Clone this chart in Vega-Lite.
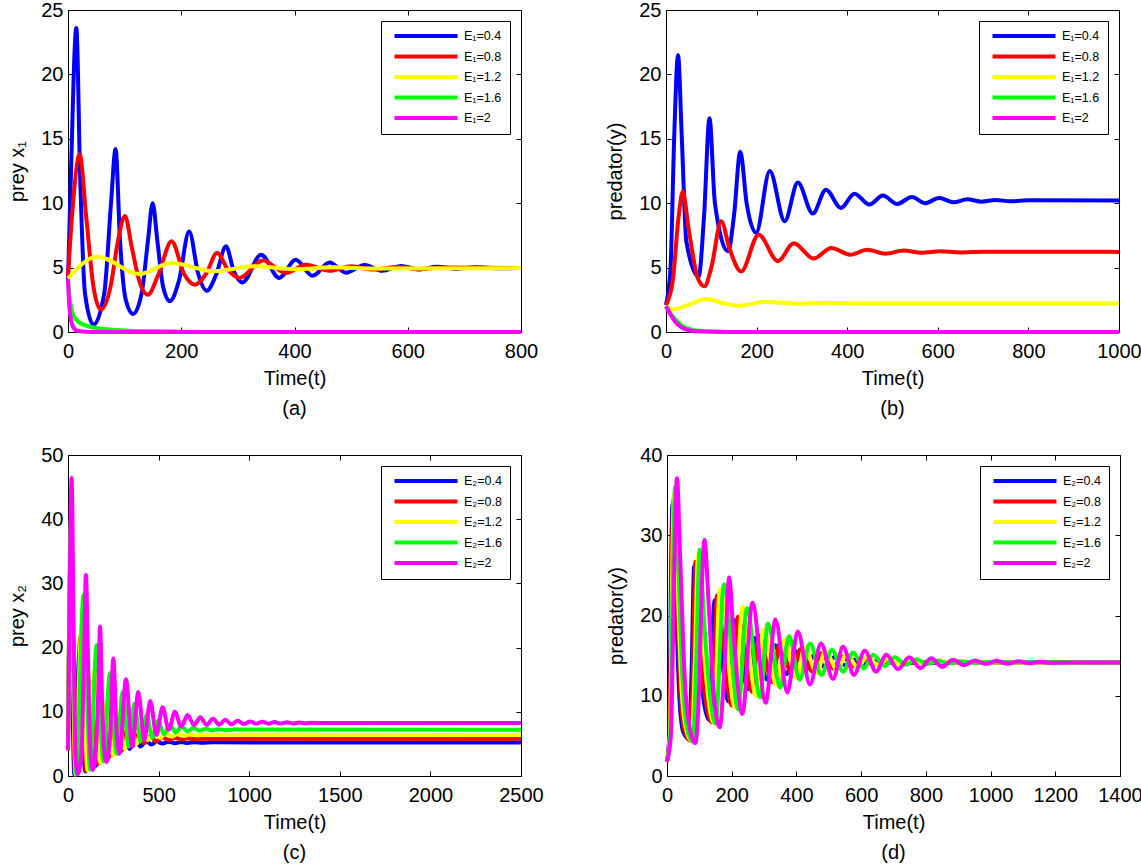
{
"$schema": "https://vega.github.io/schema/vega-lite/v6.json",
"padding": {"left": 7, "top": -1, "right": 0, "bottom": 0},
"config": {
  "font": "Liberation Sans",
  "view": {"stroke": "black", "strokeWidth": 1},
  "axis": {"grid": false, "labelFont": "Liberation Sans", "titleFont": "Liberation Sans", "labelFontSize": 20, "titleFontSize": 20, "titleFontWeight": "normal", "labelColor": "black", "titleColor": "black", "domainColor": "black", "tickColor": "black", "tickSize": -5, "labelFlush": false, "labelOverlap": false},
  "axisX": {"labelPadding": 14, "titlePadding": 7},
  "axisY": {"labelPadding": 10, "titlePadding": 13},
  "legend": {"orient": "top-right", "offset": 11, "strokeColor": "black", "fillColor": "white", "padding": 8, "symbolType": "M-6.3,0H6.3", "symbolSize": 100, "symbolStrokeWidth": 5, "symbolOffset": 30, "labelOffset": 31, "labelFontSize": 12.5, "labelFont": "Liberation Sans", "labelColor": "black", "rowPadding": 4.5, "cornerRadius": 0},
  "title": {"fontSize": 20, "fontWeight": "normal", "orient": "bottom", "offset": 11, "font": "Liberation Sans", "color": "black"},
  "line": {"strokeWidth": 4, "interpolate": "monotone", "clip": true}
},
"datasets": {
"a": [
{"t":0,"v":4.0,"s":"E₁=0.4"},{"t":5,"v":12,"s":"E₁=0.4"},{"t":14.7,"v":23.6,"s":"E₁=0.4"},{"t":21.5,"v":12,"s":"E₁=0.4"},{"t":30,"v":3,"s":"E₁=0.4"},{"t":45,"v":0.57,"s":"E₁=0.4"},{"t":64,"v":3,"s":"E₁=0.4"},{"t":76,"v":10,"s":"E₁=0.4"},{"t":84,"v":14.2,"s":"E₁=0.4"},{"t":92,"v":7,"s":"E₁=0.4"},{"t":102,"v":2.5,"s":"E₁=0.4"},{"t":115,"v":1.4,"s":"E₁=0.4"},{"t":130,"v":3,"s":"E₁=0.4"},{"t":141,"v":7,"s":"E₁=0.4"},{"t":149.5,"v":10.0,"s":"E₁=0.4"},{"t":158,"v":7,"s":"E₁=0.4"},{"t":168,"v":3.5,"s":"E₁=0.4"},{"t":180,"v":2.4,"s":"E₁=0.4"},{"t":196,"v":4,"s":"E₁=0.4"},{"t":214,"v":7.8,"s":"E₁=0.4"},{"t":230,"v":4.5,"s":"E₁=0.4"},{"t":245,"v":3.2,"s":"E₁=0.4"},{"t":262,"v":4.5,"s":"E₁=0.4"},{"t":279,"v":6.65,"s":"E₁=0.4"},{"t":293,"v":4.7,"s":"E₁=0.4"},{"t":308,"v":3.85,"s":"E₁=0.4"},{"t":341,"v":6.0,"s":"E₁=0.4"},{"t":373,"v":4.2,"s":"E₁=0.4"},{"t":402,"v":5.6,"s":"E₁=0.4"},{"t":432,"v":4.37,"s":"E₁=0.4"},{"t":462,"v":5.4,"s":"E₁=0.4"},{"t":491,"v":4.6,"s":"E₁=0.4"},{"t":524,"v":5.2,"s":"E₁=0.4"},{"t":555,"v":4.75,"s":"E₁=0.4"},{"t":588,"v":5.12,"s":"E₁=0.4"},{"t":620,"v":4.85,"s":"E₁=0.4"},{"t":652,"v":5.07,"s":"E₁=0.4"},{"t":685,"v":4.9,"s":"E₁=0.4"},{"t":720,"v":5.02,"s":"E₁=0.4"},{"t":760,"v":4.95,"s":"E₁=0.4"},{"t":800,"v":4.97,"s":"E₁=0.4"},
{"t":0,"v":4.3,"s":"E₁=0.8"},{"t":8,"v":9.5,"s":"E₁=0.8"},{"t":20.6,"v":13.8,"s":"E₁=0.8"},{"t":32,"v":9,"s":"E₁=0.8"},{"t":45,"v":3.5,"s":"E₁=0.8"},{"t":58,"v":1.73,"s":"E₁=0.8"},{"t":75,"v":3.5,"s":"E₁=0.8"},{"t":88,"v":7,"s":"E₁=0.8"},{"t":100.6,"v":9.0,"s":"E₁=0.8"},{"t":113,"v":6.5,"s":"E₁=0.8"},{"t":127,"v":3.8,"s":"E₁=0.8"},{"t":141,"v":2.9,"s":"E₁=0.8"},{"t":160,"v":4.5,"s":"E₁=0.8"},{"t":183,"v":7.04,"s":"E₁=0.8"},{"t":205,"v":4.5,"s":"E₁=0.8"},{"t":224,"v":3.67,"s":"E₁=0.8"},{"t":245,"v":4.6,"s":"E₁=0.8"},{"t":263,"v":6.13,"s":"E₁=0.8"},{"t":283,"v":4.8,"s":"E₁=0.8"},{"t":303,"v":4.2,"s":"E₁=0.8"},{"t":344,"v":5.56,"s":"E₁=0.8"},{"t":385,"v":4.58,"s":"E₁=0.8"},{"t":420,"v":5.23,"s":"E₁=0.8"},{"t":462,"v":4.75,"s":"E₁=0.8"},{"t":500,"v":5.1,"s":"E₁=0.8"},{"t":540,"v":4.85,"s":"E₁=0.8"},{"t":580,"v":5.04,"s":"E₁=0.8"},{"t":620,"v":4.9,"s":"E₁=0.8"},{"t":660,"v":5.0,"s":"E₁=0.8"},{"t":800,"v":4.97,"s":"E₁=0.8"},
{"t":0,"v":4.15,"s":"E₁=1.2"},{"t":52,"v":5.85,"s":"E₁=1.2"},{"t":126,"v":4.5,"s":"E₁=1.2"},{"t":182,"v":5.36,"s":"E₁=1.2"},{"t":258,"v":4.72,"s":"E₁=1.2"},{"t":329,"v":5.1,"s":"E₁=1.2"},{"t":400,"v":4.88,"s":"E₁=1.2"},{"t":470,"v":5.02,"s":"E₁=1.2"},{"t":540,"v":4.93,"s":"E₁=1.2"},{"t":800,"v":4.96,"s":"E₁=1.2"},
{"t":0,"v":4.1,"s":"E₁=1.6"},{"t":3,"v":2.6,"s":"E₁=1.6"},{"t":7,"v":1.6,"s":"E₁=1.6"},{"t":12,"v":1.1,"s":"E₁=1.6"},{"t":20,"v":0.75,"s":"E₁=1.6"},{"t":35,"v":0.45,"s":"E₁=1.6"},{"t":60,"v":0.25,"s":"E₁=1.6"},{"t":100,"v":0.12,"s":"E₁=1.6"},{"t":160,"v":0.05,"s":"E₁=1.6"},{"t":250,"v":0,"s":"E₁=1.6"},{"t":800,"v":0,"s":"E₁=1.6"},
{"t":0,"v":4.1,"s":"E₁=2"},{"t":2,"v":2.2,"s":"E₁=2"},{"t":5,"v":1.0,"s":"E₁=2"},{"t":9,"v":0.4,"s":"E₁=2"},{"t":15,"v":0.12,"s":"E₁=2"},{"t":25,"v":0.03,"s":"E₁=2"},{"t":40,"v":0,"s":"E₁=2"},{"t":800,"v":0,"s":"E₁=2"}
],
"b": [
{"t":0,"v":2.1,"s":"E₁=0.4"},{"t":10,"v":5,"s":"E₁=0.4"},{"t":18,"v":15,"s":"E₁=0.4"},{"t":26.5,"v":21.5,"s":"E₁=0.4"},{"t":35,"v":15,"s":"E₁=0.4"},{"t":45,"v":7,"s":"E₁=0.4"},{"t":72,"v":4.3,"s":"E₁=0.4"},{"t":84,"v":9,"s":"E₁=0.4"},{"t":96,"v":16.6,"s":"E₁=0.4"},{"t":108,"v":10,"s":"E₁=0.4"},{"t":137,"v":6.26,"s":"E₁=0.4"},{"t":150,"v":9,"s":"E₁=0.4"},{"t":164,"v":14.0,"s":"E₁=0.4"},{"t":178,"v":10,"s":"E₁=0.4"},{"t":199,"v":7.7,"s":"E₁=0.4"},{"t":229,"v":12.5,"s":"E₁=0.4"},{"t":262,"v":8.6,"s":"E₁=0.4"},{"t":291,"v":11.6,"s":"E₁=0.4"},{"t":324,"v":9.2,"s":"E₁=0.4"},{"t":353,"v":11.05,"s":"E₁=0.4"},{"t":386,"v":9.63,"s":"E₁=0.4"},{"t":416,"v":10.74,"s":"E₁=0.4"},{"t":449,"v":9.9,"s":"E₁=0.4"},{"t":479,"v":10.6,"s":"E₁=0.4"},{"t":510,"v":9.94,"s":"E₁=0.4"},{"t":543,"v":10.48,"s":"E₁=0.4"},{"t":572,"v":10.0,"s":"E₁=0.4"},{"t":603,"v":10.4,"s":"E₁=0.4"},{"t":635,"v":10.07,"s":"E₁=0.4"},{"t":665,"v":10.3,"s":"E₁=0.4"},{"t":697,"v":10.12,"s":"E₁=0.4"},{"t":727,"v":10.25,"s":"E₁=0.4"},{"t":760,"v":10.15,"s":"E₁=0.4"},{"t":800,"v":10.22,"s":"E₁=0.4"},{"t":1000,"v":10.2,"s":"E₁=0.4"},
{"t":0,"v":2.1,"s":"E₁=0.8"},{"t":15,"v":4,"s":"E₁=0.8"},{"t":28,"v":9,"s":"E₁=0.8"},{"t":37,"v":10.9,"s":"E₁=0.8"},{"t":50,"v":8,"s":"E₁=0.8"},{"t":70,"v":4.2,"s":"E₁=0.8"},{"t":85,"v":3.55,"s":"E₁=0.8"},{"t":100,"v":5,"s":"E₁=0.8"},{"t":122,"v":8.6,"s":"E₁=0.8"},{"t":140,"v":6.5,"s":"E₁=0.8"},{"t":166,"v":4.7,"s":"E₁=0.8"},{"t":204.6,"v":7.56,"s":"E₁=0.8"},{"t":247,"v":5.5,"s":"E₁=0.8"},{"t":282,"v":6.9,"s":"E₁=0.8"},{"t":326,"v":5.7,"s":"E₁=0.8"},{"t":365,"v":6.52,"s":"E₁=0.8"},{"t":407,"v":6.0,"s":"E₁=0.8"},{"t":444,"v":6.39,"s":"E₁=0.8"},{"t":484,"v":6.08,"s":"E₁=0.8"},{"t":525,"v":6.32,"s":"E₁=0.8"},{"t":565,"v":6.15,"s":"E₁=0.8"},{"t":605,"v":6.27,"s":"E₁=0.8"},{"t":650,"v":6.18,"s":"E₁=0.8"},{"t":700,"v":6.24,"s":"E₁=0.8"},{"t":1000,"v":6.22,"s":"E₁=0.8"},
{"t":0,"v":2.0,"s":"E₁=1.2"},{"t":15,"v":1.75,"s":"E₁=1.2"},{"t":50,"v":2.1,"s":"E₁=1.2"},{"t":88,"v":2.56,"s":"E₁=1.2"},{"t":125,"v":2.25,"s":"E₁=1.2"},{"t":160,"v":2.04,"s":"E₁=1.2"},{"t":219,"v":2.33,"s":"E₁=1.2"},{"t":290,"v":2.2,"s":"E₁=1.2"},{"t":350,"v":2.28,"s":"E₁=1.2"},{"t":420,"v":2.22,"s":"E₁=1.2"},{"t":1000,"v":2.22,"s":"E₁=1.2"},
{"t":0,"v":2.0,"s":"E₁=1.6"},{"t":10,"v":1.45,"s":"E₁=1.6"},{"t":20,"v":1.0,"s":"E₁=1.6"},{"t":35,"v":0.5,"s":"E₁=1.6"},{"t":55,"v":0.2,"s":"E₁=1.6"},{"t":80,"v":0.07,"s":"E₁=1.6"},{"t":120,"v":0.02,"s":"E₁=1.6"},{"t":180,"v":0,"s":"E₁=1.6"},{"t":1000,"v":0,"s":"E₁=1.6"},
{"t":0,"v":2.0,"s":"E₁=2"},{"t":10,"v":1.35,"s":"E₁=2"},{"t":20,"v":0.8,"s":"E₁=2"},{"t":35,"v":0.35,"s":"E₁=2"},{"t":50,"v":0.14,"s":"E₁=2"},{"t":80,"v":0.03,"s":"E₁=2"},{"t":130,"v":0,"s":"E₁=2"},{"t":1000,"v":0,"s":"E₁=2"}
],
"c": [
{"t":0,"v":4,"s":"E₂=0.4"},{"t":12,"v":30,"s":"E₂=0.4"},{"t":35,"v":0.2,"s":"E₂=0.4"},{"t":63,"v":19.1,"s":"E₂=0.4"},{"t":95,"v":0.7,"s":"E₂=0.4"},{"t":123,"v":13.1,"s":"E₂=0.4"},{"t":155,"v":1.6,"s":"E₂=0.4"},{"t":191,"v":9.2,"s":"E₂=0.4"},{"t":220,"v":2.7,"s":"E₂=0.4"},{"t":250,"v":7.2,"s":"E₂=0.4"},{"t":280,"v":3.5,"s":"E₂=0.4"},{"t":310,"v":6.3,"s":"E₂=0.4"},{"t":340,"v":4.2,"s":"E₂=0.4"},{"t":370,"v":5.8,"s":"E₂=0.4"},{"t":400,"v":4.6,"s":"E₂=0.4"},{"t":430,"v":5.5,"s":"E₂=0.4"},{"t":460,"v":4.9,"s":"E₂=0.4"},{"t":490,"v":5.4,"s":"E₂=0.4"},{"t":520,"v":5.05,"s":"E₂=0.4"},{"t":555,"v":5.35,"s":"E₂=0.4"},{"t":590,"v":5.1,"s":"E₂=0.4"},{"t":625,"v":5.3,"s":"E₂=0.4"},{"t":660,"v":5.15,"s":"E₂=0.4"},{"t":700,"v":5.27,"s":"E₂=0.4"},{"t":740,"v":5.18,"s":"E₂=0.4"},{"t":800,"v":5.24,"s":"E₂=0.4"},{"t":2500,"v":5.2,"s":"E₂=0.4"},
{"t":0,"v":4,"s":"E₂=0.8"},{"t":13,"v":33,"s":"E₂=0.8"},{"t":40,"v":0.25,"s":"E₂=0.8"},{"t":68,"v":21.7,"s":"E₂=0.8"},{"t":100,"v":0.8,"s":"E₂=0.8"},{"t":132,"v":15,"s":"E₂=0.8"},{"t":165,"v":1.9,"s":"E₂=0.8"},{"t":200,"v":10.5,"s":"E₂=0.8"},{"t":230,"v":3.0,"s":"E₂=0.8"},{"t":262,"v":8.3,"s":"E₂=0.8"},{"t":295,"v":3.9,"s":"E₂=0.8"},{"t":325,"v":7.2,"s":"E₂=0.8"},{"t":355,"v":4.6,"s":"E₂=0.8"},{"t":390,"v":6.6,"s":"E₂=0.8"},{"t":420,"v":5.1,"s":"E₂=0.8"},{"t":455,"v":6.2,"s":"E₂=0.8"},{"t":485,"v":5.4,"s":"E₂=0.8"},{"t":520,"v":6.05,"s":"E₂=0.8"},{"t":555,"v":5.6,"s":"E₂=0.8"},{"t":590,"v":5.95,"s":"E₂=0.8"},{"t":625,"v":5.7,"s":"E₂=0.8"},{"t":660,"v":5.88,"s":"E₂=0.8"},{"t":700,"v":5.75,"s":"E₂=0.8"},{"t":760,"v":5.82,"s":"E₂=0.8"},{"t":2500,"v":5.8,"s":"E₂=0.8"},
{"t":0,"v":4,"s":"E₂=1.2"},{"t":14,"v":36,"s":"E₂=1.2"},{"t":42,"v":0.25,"s":"E₂=1.2"},{"t":75,"v":23.5,"s":"E₂=1.2"},{"t":108,"v":0.9,"s":"E₂=1.2"},{"t":142,"v":16.5,"s":"E₂=1.2"},{"t":178,"v":2.0,"s":"E₂=1.2"},{"t":215,"v":11.8,"s":"E₂=1.2"},{"t":248,"v":3.2,"s":"E₂=1.2"},{"t":280,"v":9.5,"s":"E₂=1.2"},{"t":312,"v":4.2,"s":"E₂=1.2"},{"t":345,"v":8.2,"s":"E₂=1.2"},{"t":378,"v":5.0,"s":"E₂=1.2"},{"t":410,"v":7.4,"s":"E₂=1.2"},{"t":443,"v":5.6,"s":"E₂=1.2"},{"t":475,"v":7.0,"s":"E₂=1.2"},{"t":508,"v":5.9,"s":"E₂=1.2"},{"t":540,"v":6.7,"s":"E₂=1.2"},{"t":573,"v":6.1,"s":"E₂=1.2"},{"t":606,"v":6.6,"s":"E₂=1.2"},{"t":640,"v":6.25,"s":"E₂=1.2"},{"t":675,"v":6.5,"s":"E₂=1.2"},{"t":710,"v":6.32,"s":"E₂=1.2"},{"t":760,"v":6.43,"s":"E₂=1.2"},{"t":2500,"v":6.4,"s":"E₂=1.2"},
{"t":0,"v":4,"s":"E₂=1.6"},{"t":16,"v":40,"s":"E₂=1.6"},{"t":45,"v":0.3,"s":"E₂=1.6"},{"t":86,"v":28.2,"s":"E₂=1.6"},{"t":122,"v":1.0,"s":"E₂=1.6"},{"t":158,"v":20.4,"s":"E₂=1.6"},{"t":195,"v":2.3,"s":"E₂=1.6"},{"t":232,"v":16,"s":"E₂=1.6"},{"t":268,"v":3.5,"s":"E₂=1.6"},{"t":302,"v":13.1,"s":"E₂=1.6"},{"t":335,"v":4.6,"s":"E₂=1.6"},{"t":366,"v":11.3,"s":"E₂=1.6"},{"t":400,"v":5.4,"s":"E₂=1.6"},{"t":434,"v":9.5,"s":"E₂=1.6"},{"t":465,"v":6.0,"s":"E₂=1.6"},{"t":497,"v":8.6,"s":"E₂=1.6"},{"t":530,"v":6.5,"s":"E₂=1.6"},{"t":562,"v":8.0,"s":"E₂=1.6"},{"t":595,"v":6.8,"s":"E₂=1.6"},{"t":627,"v":7.7,"s":"E₂=1.6"},{"t":660,"v":6.95,"s":"E₂=1.6"},{"t":692,"v":7.5,"s":"E₂=1.6"},{"t":725,"v":7.05,"s":"E₂=1.6"},{"t":760,"v":7.35,"s":"E₂=1.6"},{"t":795,"v":7.1,"s":"E₂=1.6"},{"t":830,"v":7.28,"s":"E₂=1.6"},{"t":870,"v":7.15,"s":"E₂=1.6"},{"t":920,"v":7.23,"s":"E₂=1.6"},{"t":2500,"v":7.2,"s":"E₂=1.6"},
{"t":0,"v":4,"s":"E₂=2"},{"t":8,"v":25,"s":"E₂=2"},{"t":20,"v":46.4,"s":"E₂=2"},{"t":32,"v":20,"s":"E₂=2"},{"t":42,"v":3,"s":"E₂=2"},{"t":55,"v":0.3,"s":"E₂=2"},{"t":75,"v":4,"s":"E₂=2"},{"t":88,"v":18,"s":"E₂=2"},{"t":99,"v":31.3,"s":"E₂=2"},{"t":112,"v":16,"s":"E₂=2"},{"t":125,"v":3,"s":"E₂=2"},{"t":138,"v":0.93,"s":"E₂=2"},{"t":158,"v":6,"s":"E₂=2"},{"t":168,"v":14,"s":"E₂=2"},{"t":177,"v":23.3,"s":"E₂=2"},{"t":188,"v":12,"s":"E₂=2"},{"t":200,"v":4,"s":"E₂=2"},{"t":213,"v":2.2,"s":"E₂=2"},{"t":232,"v":6,"s":"E₂=2"},{"t":250,"v":18.3,"s":"E₂=2"},{"t":268,"v":7,"s":"E₂=2"},{"t":285,"v":3.5,"s":"E₂=2"},{"t":320,"v":15.06,"s":"E₂=2"},{"t":354,"v":4.57,"s":"E₂=2"},{"t":388,"v":13.1,"s":"E₂=2"},{"t":421,"v":5.6,"s":"E₂=2"},{"t":454,"v":11.7,"s":"E₂=2"},{"t":488,"v":6.4,"s":"E₂=2"},{"t":522,"v":10.7,"s":"E₂=2"},{"t":556,"v":7.2,"s":"E₂=2"},{"t":590,"v":10.0,"s":"E₂=2"},{"t":625,"v":7.7,"s":"E₂=2"},{"t":660,"v":9.5,"s":"E₂=2"},{"t":695,"v":7.94,"s":"E₂=2"},{"t":730,"v":9.14,"s":"E₂=2"},{"t":765,"v":7.96,"s":"E₂=2"},{"t":800,"v":8.9,"s":"E₂=2"},{"t":835,"v":8.0,"s":"E₂=2"},{"t":868,"v":8.75,"s":"E₂=2"},{"t":903,"v":8.05,"s":"E₂=2"},{"t":936,"v":8.6,"s":"E₂=2"},{"t":971,"v":8.1,"s":"E₂=2"},{"t":1004,"v":8.5,"s":"E₂=2"},{"t":1039,"v":8.13,"s":"E₂=2"},{"t":1072,"v":8.45,"s":"E₂=2"},{"t":1107,"v":8.15,"s":"E₂=2"},{"t":1140,"v":8.4,"s":"E₂=2"},{"t":1175,"v":8.17,"s":"E₂=2"},{"t":1208,"v":8.36,"s":"E₂=2"},{"t":1243,"v":8.18,"s":"E₂=2"},{"t":1276,"v":8.33,"s":"E₂=2"},{"t":1310,"v":8.2,"s":"E₂=2"},{"t":1344,"v":8.3,"s":"E₂=2"},{"t":1400,"v":8.24,"s":"E₂=2"},{"t":1500,"v":8.26,"s":"E₂=2"},{"t":2500,"v":8.25,"s":"E₂=2"}
],
"d": [
{"t":0,"v":1.8,"s":"E₂=0.4"},{"t":7,"v":5,"s":"E₂=0.4"},{"t":12,"v":24,"s":"E₂=0.4"},{"t":17,"v":33.8,"s":"E₂=0.4"},{"t":26,"v":24,"s":"E₂=0.4"},{"t":38,"v":10,"s":"E₂=0.4"},{"t":50,"v":5.5,"s":"E₂=0.4"},{"t":68,"v":4.6,"s":"E₂=0.4"},{"t":76,"v":13,"s":"E₂=0.4"},{"t":84,"v":26.1,"s":"E₂=0.4"},{"t":96,"v":17,"s":"E₂=0.4"},{"t":130,"v":7.0,"s":"E₂=0.4"},{"t":147,"v":21.9,"s":"E₂=0.4"},{"t":190,"v":9.3,"s":"E₂=0.4"},{"t":209,"v":19.4,"s":"E₂=0.4"},{"t":250,"v":10.8,"s":"E₂=0.4"},{"t":272,"v":17.2,"s":"E₂=0.4"},{"t":310,"v":12.0,"s":"E₂=0.4"},{"t":333,"v":16.3,"s":"E₂=0.4"},{"t":370,"v":12.7,"s":"E₂=0.4"},{"t":394,"v":15.6,"s":"E₂=0.4"},{"t":430,"v":13.2,"s":"E₂=0.4"},{"t":455,"v":15.1,"s":"E₂=0.4"},{"t":490,"v":13.5,"s":"E₂=0.4"},{"t":515,"v":14.8,"s":"E₂=0.4"},{"t":550,"v":13.8,"s":"E₂=0.4"},{"t":575,"v":14.5,"s":"E₂=0.4"},{"t":610,"v":14.0,"s":"E₂=0.4"},{"t":640,"v":14.3,"s":"E₂=0.4"},{"t":700,"v":14.12,"s":"E₂=0.4"},{"t":1400,"v":14.15,"s":"E₂=0.4"},
{"t":0,"v":1.8,"s":"E₂=0.8"},{"t":8,"v":5,"s":"E₂=0.8"},{"t":14,"v":25,"s":"E₂=0.8"},{"t":20,"v":34.5,"s":"E₂=0.8"},{"t":29,"v":25,"s":"E₂=0.8"},{"t":42,"v":10,"s":"E₂=0.8"},{"t":55,"v":5.5,"s":"E₂=0.8"},{"t":72,"v":4.4,"s":"E₂=0.8"},{"t":80,"v":13,"s":"E₂=0.8"},{"t":88,"v":26.7,"s":"E₂=0.8"},{"t":100,"v":18,"s":"E₂=0.8"},{"t":138,"v":6.7,"s":"E₂=0.8"},{"t":155,"v":22.5,"s":"E₂=0.8"},{"t":200,"v":8.8,"s":"E₂=0.8"},{"t":219,"v":19.85,"s":"E₂=0.8"},{"t":262,"v":10.5,"s":"E₂=0.8"},{"t":285,"v":17.5,"s":"E₂=0.8"},{"t":325,"v":11.7,"s":"E₂=0.8"},{"t":348,"v":16.5,"s":"E₂=0.8"},{"t":388,"v":12.5,"s":"E₂=0.8"},{"t":412,"v":15.8,"s":"E₂=0.8"},{"t":450,"v":13.0,"s":"E₂=0.8"},{"t":476,"v":15.3,"s":"E₂=0.8"},{"t":514,"v":13.4,"s":"E₂=0.8"},{"t":540,"v":14.9,"s":"E₂=0.8"},{"t":578,"v":13.7,"s":"E₂=0.8"},{"t":604,"v":14.6,"s":"E₂=0.8"},{"t":640,"v":13.9,"s":"E₂=0.8"},{"t":670,"v":14.35,"s":"E₂=0.8"},{"t":720,"v":14.1,"s":"E₂=0.8"},{"t":800,"v":14.17,"s":"E₂=0.8"},{"t":1400,"v":14.15,"s":"E₂=0.8"},
{"t":0,"v":1.8,"s":"E₂=1.2"},{"t":9,"v":5,"s":"E₂=1.2"},{"t":16,"v":25,"s":"E₂=1.2"},{"t":22,"v":35.2,"s":"E₂=1.2"},{"t":31,"v":26,"s":"E₂=1.2"},{"t":45,"v":11,"s":"E₂=1.2"},{"t":58,"v":6,"s":"E₂=1.2"},{"t":76,"v":4.35,"s":"E₂=1.2"},{"t":86,"v":14,"s":"E₂=1.2"},{"t":96,"v":27.5,"s":"E₂=1.2"},{"t":110,"v":18,"s":"E₂=1.2"},{"t":145,"v":6.6,"s":"E₂=1.2"},{"t":163,"v":23.2,"s":"E₂=1.2"},{"t":210,"v":8.5,"s":"E₂=1.2"},{"t":233,"v":21.1,"s":"E₂=1.2"},{"t":275,"v":10.0,"s":"E₂=1.2"},{"t":298,"v":18.3,"s":"E₂=1.2"},{"t":338,"v":11.3,"s":"E₂=1.2"},{"t":362,"v":17.0,"s":"E₂=1.2"},{"t":400,"v":12.2,"s":"E₂=1.2"},{"t":426,"v":16.1,"s":"E₂=1.2"},{"t":462,"v":12.8,"s":"E₂=1.2"},{"t":490,"v":15.6,"s":"E₂=1.2"},{"t":526,"v":13.2,"s":"E₂=1.2"},{"t":555,"v":15.2,"s":"E₂=1.2"},{"t":590,"v":13.5,"s":"E₂=1.2"},{"t":618,"v":14.9,"s":"E₂=1.2"},{"t":655,"v":13.8,"s":"E₂=1.2"},{"t":682,"v":14.6,"s":"E₂=1.2"},{"t":720,"v":13.95,"s":"E₂=1.2"},{"t":750,"v":14.4,"s":"E₂=1.2"},{"t":790,"v":14.05,"s":"E₂=1.2"},{"t":830,"v":14.25,"s":"E₂=1.2"},{"t":900,"v":14.15,"s":"E₂=1.2"},{"t":1400,"v":14.15,"s":"E₂=1.2"},
{"t":0,"v":1.8,"s":"E₂=1.6"},{"t":10,"v":5,"s":"E₂=1.6"},{"t":18,"v":25,"s":"E₂=1.6"},{"t":25,"v":36,"s":"E₂=1.6"},{"t":34,"v":27,"s":"E₂=1.6"},{"t":48,"v":12,"s":"E₂=1.6"},{"t":62,"v":6,"s":"E₂=1.6"},{"t":80,"v":4.3,"s":"E₂=1.6"},{"t":90,"v":14,"s":"E₂=1.6"},{"t":101,"v":28.2,"s":"E₂=1.6"},{"t":115,"v":19,"s":"E₂=1.6"},{"t":150,"v":6.5,"s":"E₂=1.6"},{"t":176,"v":23.9,"s":"E₂=1.6"},{"t":220,"v":8.3,"s":"E₂=1.6"},{"t":247,"v":20.9,"s":"E₂=1.6"},{"t":288,"v":9.8,"s":"E₂=1.6"},{"t":312,"v":19.0,"s":"E₂=1.6"},{"t":350,"v":11.0,"s":"E₂=1.6"},{"t":377,"v":17.4,"s":"E₂=1.6"},{"t":410,"v":12.0,"s":"E₂=1.6"},{"t":442,"v":16.5,"s":"E₂=1.6"},{"t":477,"v":12.6,"s":"E₂=1.6"},{"t":510,"v":15.7,"s":"E₂=1.6"},{"t":544,"v":13.0,"s":"E₂=1.6"},{"t":575,"v":15.4,"s":"E₂=1.6"},{"t":608,"v":13.4,"s":"E₂=1.6"},{"t":637,"v":15.1,"s":"E₂=1.6"},{"t":673,"v":13.7,"s":"E₂=1.6"},{"t":704,"v":14.8,"s":"E₂=1.6"},{"t":738,"v":13.85,"s":"E₂=1.6"},{"t":770,"v":14.55,"s":"E₂=1.6"},{"t":805,"v":13.95,"s":"E₂=1.6"},{"t":838,"v":14.4,"s":"E₂=1.6"},{"t":870,"v":14.02,"s":"E₂=1.6"},{"t":905,"v":14.3,"s":"E₂=1.6"},{"t":950,"v":14.12,"s":"E₂=1.6"},{"t":1000,"v":14.2,"s":"E₂=1.6"},{"t":1400,"v":14.15,"s":"E₂=1.6"},
{"t":0,"v":1.8,"s":"E₂=2"},{"t":12,"v":5,"s":"E₂=2"},{"t":22,"v":25,"s":"E₂=2"},{"t":31,"v":37.1,"s":"E₂=2"},{"t":40,"v":28,"s":"E₂=2"},{"t":55,"v":12,"s":"E₂=2"},{"t":70,"v":6,"s":"E₂=2"},{"t":88,"v":4.07,"s":"E₂=2"},{"t":100,"v":12,"s":"E₂=2"},{"t":108,"v":24,"s":"E₂=2"},{"t":116,"v":29.4,"s":"E₂=2"},{"t":128,"v":22,"s":"E₂=2"},{"t":145,"v":10,"s":"E₂=2"},{"t":163,"v":6.06,"s":"E₂=2"},{"t":178,"v":14,"s":"E₂=2"},{"t":192,"v":24.75,"s":"E₂=2"},{"t":205,"v":18,"s":"E₂=2"},{"t":233,"v":7.72,"s":"E₂=2"},{"t":264,"v":21.6,"s":"E₂=2"},{"t":305,"v":9.14,"s":"E₂=2"},{"t":335,"v":19.5,"s":"E₂=2"},{"t":372,"v":10.4,"s":"E₂=2"},{"t":404,"v":18.0,"s":"E₂=2"},{"t":442,"v":11.4,"s":"E₂=2"},{"t":476,"v":16.5,"s":"E₂=2"},{"t":513,"v":12.1,"s":"E₂=2"},{"t":544,"v":16.1,"s":"E₂=2"},{"t":578,"v":12.6,"s":"E₂=2"},{"t":611,"v":15.6,"s":"E₂=2"},{"t":646,"v":13.0,"s":"E₂=2"},{"t":678,"v":15.1,"s":"E₂=2"},{"t":714,"v":13.3,"s":"E₂=2"},{"t":749,"v":14.8,"s":"E₂=2"},{"t":783,"v":13.45,"s":"E₂=2"},{"t":817,"v":14.66,"s":"E₂=2"},{"t":851,"v":13.6,"s":"E₂=2"},{"t":884,"v":14.5,"s":"E₂=2"},{"t":918,"v":13.8,"s":"E₂=2"},{"t":951,"v":14.4,"s":"E₂=2"},{"t":987,"v":13.95,"s":"E₂=2"},{"t":1018,"v":14.35,"s":"E₂=2"},{"t":1054,"v":14.0,"s":"E₂=2"},{"t":1087,"v":14.3,"s":"E₂=2"},{"t":1120,"v":14.05,"s":"E₂=2"},{"t":1150,"v":14.25,"s":"E₂=2"},{"t":1185,"v":14.1,"s":"E₂=2"},{"t":1250,"v":14.15,"s":"E₂=2"},{"t":1400,"v":14.15,"s":"E₂=2"}
]
},
"resolve": {"scale": {"color": "independent"}, "legend": {"color": "independent"}},
"spacing": 24,
"vconcat": [
{
 "spacing": 66,
 "resolve": {"scale": {"color": "independent"}, "legend": {"color": "independent"}},
 "hconcat": [
  {
   "width": 453, "height": 322,
   "data": {"name": "a"},
   "title": {"text": "(a)"},
   "layer": [
    {"mark": {"type": "line"},
     "encoding": {
      "x": {"field": "t", "type": "quantitative", "scale": {"domain": [0, 800], "nice": false}, "axis": {"values": [0, 200, 400, 600, 800], "format": "d", "title": "Time(t)"}},
      "y": {"field": "v", "type": "quantitative", "scale": {"domain": [0, 25], "nice": false}, "axis": {"values": [0, 5, 10, 15, 20, 25], "format": "d", "title": "prey x₁"}},
      "color": {"field": "s", "type": "nominal", "scale": {"domain": ["E₁=0.4", "E₁=0.8", "E₁=1.2", "E₁=1.6", "E₁=2"], "range": ["#0000ff", "#ff0000", "#ffff00", "#00ff00", "#ff00ff"]}, "legend": {"title": null}}
     }},
    {"mark": {"type": "line", "opacity": 0},
     "encoding": {
      "x": {"field": "t", "type": "quantitative", "axis": {"orient": "top", "values": [0, 200, 400, 600, 800], "labels": false, "title": null, "domain": false}},
      "y": {"field": "v", "type": "quantitative", "axis": {"orient": "right", "values": [0, 5, 10, 15, 20, 25], "labels": false, "title": null, "domain": false}}
     }}
   ],
   "resolve": {"axis": {"x": "independent", "y": "independent"}}
  },
  {
   "width": 453, "height": 322,
   "data": {"name": "b"},
   "title": {"text": "(b)"},
   "layer": [
    {"mark": {"type": "line"},
     "encoding": {
      "x": {"field": "t", "type": "quantitative", "scale": {"domain": [0, 1000], "nice": false}, "axis": {"values": [0, 200, 400, 600, 800, 1000], "format": "d", "title": "Time(t)"}},
      "y": {"field": "v", "type": "quantitative", "scale": {"domain": [0, 25], "nice": false}, "axis": {"values": [0, 5, 10, 15, 20, 25], "format": "d", "title": "predator(y)"}},
      "color": {"field": "s", "type": "nominal", "scale": {"domain": ["E₁=0.4", "E₁=0.8", "E₁=1.2", "E₁=1.6", "E₁=2"], "range": ["#0000ff", "#ff0000", "#ffff00", "#00ff00", "#ff00ff"]}, "legend": {"title": null}}
     }},
    {"mark": {"type": "line", "opacity": 0},
     "encoding": {
      "x": {"field": "t", "type": "quantitative", "axis": {"orient": "top", "values": [0, 200, 400, 600, 800, 1000], "labels": false, "title": null, "domain": false}},
      "y": {"field": "v", "type": "quantitative", "axis": {"orient": "right", "values": [0, 5, 10, 15, 20, 25], "labels": false, "title": null, "domain": false}}
     }}
   ],
   "resolve": {"axis": {"x": "independent", "y": "independent"}}
  }
 ]
},
{
 "spacing": 62,
 "resolve": {"scale": {"color": "independent"}, "legend": {"color": "independent"}},
 "hconcat": [
  {
   "width": 453, "height": 321,
   "data": {"name": "c"},
   "title": {"text": "(c)"},
   "layer": [
    {"mark": {"type": "line"},
     "encoding": {
      "x": {"field": "t", "type": "quantitative", "scale": {"domain": [0, 2500], "nice": false}, "axis": {"values": [0, 500, 1000, 1500, 2000, 2500], "format": "d", "title": "Time(t)"}},
      "y": {"field": "v", "type": "quantitative", "scale": {"domain": [0, 50], "nice": false}, "axis": {"values": [0, 10, 20, 30, 40, 50], "format": "d", "title": "prey x₂"}},
      "color": {"field": "s", "type": "nominal", "scale": {"domain": ["E₂=0.4", "E₂=0.8", "E₂=1.2", "E₂=1.6", "E₂=2"], "range": ["#0000ff", "#ff0000", "#ffff00", "#00ff00", "#ff00ff"]}, "legend": {"title": null}}
     }},
    {"mark": {"type": "line", "opacity": 0},
     "encoding": {
      "x": {"field": "t", "type": "quantitative", "axis": {"orient": "top", "values": [0, 500, 1000, 1500, 2000, 2500], "labels": false, "title": null, "domain": false}},
      "y": {"field": "v", "type": "quantitative", "axis": {"orient": "right", "values": [0, 10, 20, 30, 40, 50], "labels": false, "title": null, "domain": false}}
     }}
   ],
   "resolve": {"axis": {"x": "independent", "y": "independent"}}
  },
  {
   "width": 453, "height": 321,
   "data": {"name": "d"},
   "title": {"text": "(d)"},
   "layer": [
    {"mark": {"type": "line"},
     "encoding": {
      "x": {"field": "t", "type": "quantitative", "scale": {"domain": [0, 1400], "nice": false}, "axis": {"values": [0, 200, 400, 600, 800, 1000, 1200, 1400], "format": "d", "title": "Time(t)"}},
      "y": {"field": "v", "type": "quantitative", "scale": {"domain": [0, 40], "nice": false}, "axis": {"values": [0, 10, 20, 30, 40], "format": "d", "title": "predator(y)"}},
      "color": {"field": "s", "type": "nominal", "scale": {"domain": ["E₂=0.4", "E₂=0.8", "E₂=1.2", "E₂=1.6", "E₂=2"], "range": ["#0000ff", "#ff0000", "#ffff00", "#00ff00", "#ff00ff"]}, "legend": {"title": null}}
     }},
    {"mark": {"type": "line", "opacity": 0},
     "encoding": {
      "x": {"field": "t", "type": "quantitative", "axis": {"orient": "top", "values": [0, 200, 400, 600, 800, 1000, 1200, 1400], "labels": false, "title": null, "domain": false}},
      "y": {"field": "v", "type": "quantitative", "axis": {"orient": "right", "values": [0, 10, 20, 30, 40], "labels": false, "title": null, "domain": false}}
     }}
   ],
   "resolve": {"axis": {"x": "independent", "y": "independent"}}
  }
 ]
}
]
}
